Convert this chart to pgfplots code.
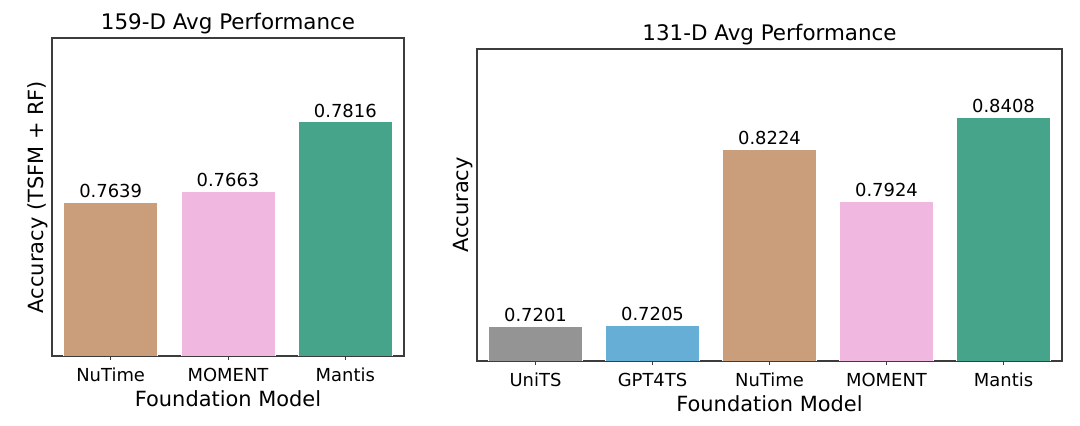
\documentclass[border=0pt]{standalone}
\usepackage{pgfplots}
\pgfplotsset{compat=1.18}
\usepackage{fontspec}
\setmainfont{DejaVu Sans}
\definecolor{cgray}{RGB}{148,148,148}
\definecolor{cblue}{RGB}{103,174,214}
\definecolor{ctan}{RGB}{202,158,122}
\definecolor{cpink}{RGB}{240,184,224}
\definecolor{cgreen}{RGB}{70,164,138}
\definecolor{axcol}{RGB}{60,60,60}
\pgfplotsset{
  mybars/.style={
    scale only axis,
    ybar, bar width=0.8, bar shift=0pt,
    axis line style={axcol, line width=1.1bp},
    xtick style={axcol, line width=1bp},
    tick align=outside,
    major tick length=4bp,
    ytick=\empty,
    xtick pos=bottom,
    xticklabel style={font=\fontsize{18}{20}\selectfont, anchor=base, yshift=-21bp},
    title style={font=\fontsize{21.5}{24}\selectfont, at={(axis description cs:0.5,1)}, anchor=base, yshift=3bp},
    xlabel style={font=\fontsize{21}{24}\selectfont, at={(axis description cs:0.5,0)}, anchor=base, yshift=-50bp},
    ylabel style={font=\fontsize{21}{24}\selectfont, at={(axis description cs:0,0.5)}, anchor=base, yshift=8.5bp},
    nodes near coords,
    point meta=y,
    every node near coord/.append style={font=\fontsize{18}{20}\selectfont, yshift=2bp, inner sep=2bp},
    nodes near coords style={/pgf/number format/.cd, fixed, fixed zerofill, precision=4, assume math mode=true},
    every axis plot/.append style={draw=white, line width=0.6bp},
  }
}
\begin{document}
\begin{tikzpicture}
\useasboundingbox (0,0) rectangle (1080bp,426bp);
\begin{axis}[mybars,
  at={(52bp,70bp)}, anchor=south west,
  width=352bp, height=318bp,
  xmin=-0.5, xmax=2.5, ymin=0.73, ymax=0.80,
  xtick={0,1,2},
  xticklabels={NuTime, MOMENT, Mantis},
  title={159-D Avg Performance},
  xlabel={Foundation Model},
  ylabel={Accuracy (TSFM + RF)},
]
\addplot[fill=ctan] coordinates {(0,0.7639)};
\addplot[fill=cpink] coordinates {(1,0.7663)};
\addplot[fill=cgreen] coordinates {(2,0.7816)};
\end{axis}
\begin{axis}[mybars,
  at={(477bp,65bp)}, anchor=south west,
  width=585bp, height=312bp,
  xmin=-0.5, xmax=4.5, ymin=0.70, ymax=0.88,
  xtick={0,1,2,3,4},
  xticklabels={UniTS, GPT4TS, NuTime, MOMENT, Mantis},
  title={131-D Avg Performance},
  xlabel={Foundation Model},
  ylabel={Accuracy},
]
\addplot[fill=cgray] coordinates {(0,0.7201)};
\addplot[fill=cblue] coordinates {(1,0.7205)};
\addplot[fill=ctan] coordinates {(2,0.8224)};
\addplot[fill=cpink] coordinates {(3,0.7924)};
\addplot[fill=cgreen] coordinates {(4,0.8408)};
\end{axis}
\end{tikzpicture}
\end{document}
